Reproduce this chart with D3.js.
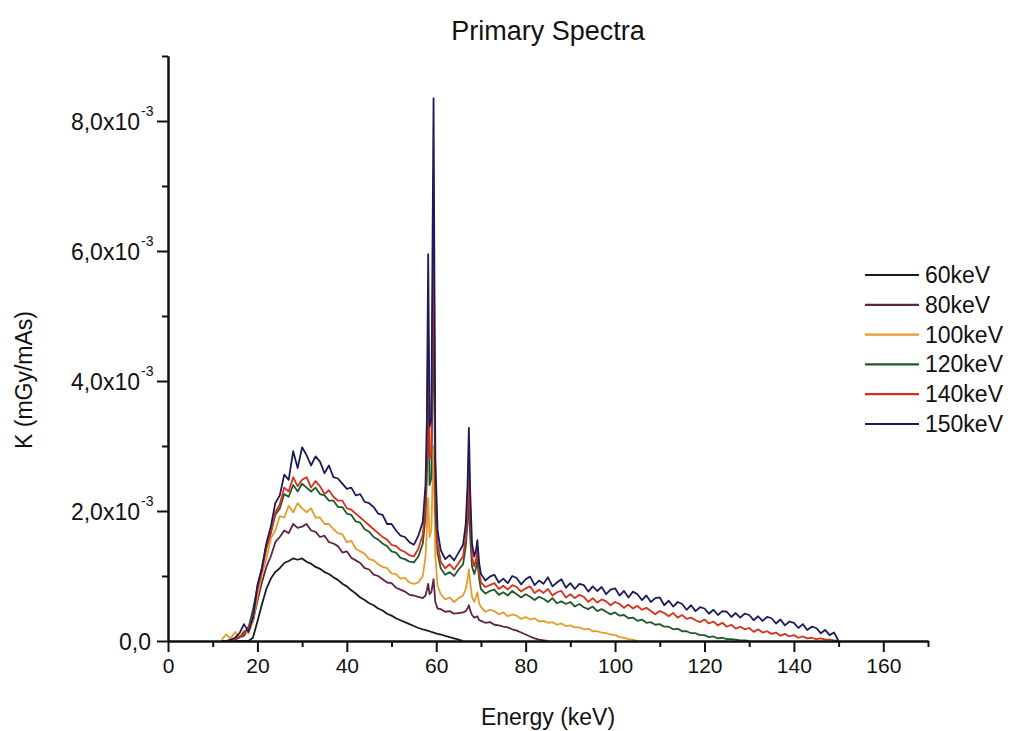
<!DOCTYPE html>
<html>
<head>
<meta charset="utf-8">
<script src="https://cdn.jsdelivr.net/npm/d3@7"></script>
<style>
  body { margin: 0; background: #fff; }
  svg text { font-family: "Liberation Sans", Arial, sans-serif; fill: #111; }
</style>
</head>
<body>
<div id="chart"></div>
<script>
// energy grid (keV), finer near the tungsten K lines
const energy = [
  12, 13, 14, 15, 16, 17, 18, 19, 20, 21, 22, 23, 24, 25, 26, 27, 28, 29, 30, 31,
  32, 33, 34, 35, 36, 37, 38, 39, 40, 41, 42, 43, 44, 45, 46, 47, 48, 49, 50, 51,
  52, 53, 54, 55, 56, 57,
  57.6, 57.9, 58.2, 58.5, 58.9, 59.4, 59.8, 60.3,
  61, 62, 63, 64, 65, 66,
  66.6, 67.0, 67.3, 67.6, 68.0, 68.5, 68.9, 69.2, 69.6,
  70, 71, 72, 73, 74, 75, 76, 77, 78, 79, 80, 81, 82, 83, 84, 85, 86, 87, 88, 89,
  90, 91, 92, 93, 94, 95, 96, 97, 98, 99, 100, 101, 102, 103, 104, 105, 106, 107, 108, 109,
  110, 111, 112, 113, 114, 115, 116, 117, 118, 119, 120, 121, 122, 123, 124, 125, 126, 127, 128, 129,
  130, 131, 132, 133, 134, 135, 136, 137, 138, 139, 140, 141, 142, 143, 144, 145, 146, 147, 148, 149,
  150
];

// K values in units of 1e-3 mGy/mAs, aligned with energy[]
const k60 = [
  0, 0, 0, 0, 0, 0, 0, 0.05, 0.3, 0.56,
  0.8, 0.96, 1.06, 1.12, 1.2, 1.23, 1.27, 1.25, 1.27, 1.22,
  1.19, 1.14, 1.11, 1.06, 1.03, 0.98, 0.94, 0.88, 0.84, 0.78,
  0.73, 0.67, 0.63, 0.58, 0.55, 0.5, 0.47, 0.42, 0.39, 0.35,
  0.32, 0.29, 0.26, 0.23, 0.2, 0.18,
  0.17, 0.16, 0.16, 0.15, 0.14, 0.13, 0.12, 0.11,
  0.1, 0.08, 0.06, 0.04, 0.02, 0
];

const k80 = [
  0, 0, 0, 0.02, 0.06, 0.08, 0.2, 0.3, 0.62, 0.9,
  1.14, 1.3, 1.52, 1.6, 1.7, 1.66, 1.8, 1.74, 1.76, 1.8,
  1.7, 1.68, 1.6, 1.62, 1.52, 1.5, 1.46, 1.36, 1.38, 1.28,
  1.24, 1.2, 1.12, 1.1, 1.02, 1.0, 0.95, 0.9, 0.89, 0.82,
  0.79, 0.76, 0.71, 0.7, 0.68, 0.66,
  0.7, 0.78, 0.88, 0.72, 0.75, 0.95, 0.6, 0.5,
  0.49, 0.45, 0.46, 0.42, 0.43, 0.44,
  0.46, 0.5, 0.55, 0.47, 0.4, 0.36, 0.37, 0.38, 0.32,
  0.31, 0.28, 0.29, 0.25, 0.24, 0.22, 0.21, 0.18, 0.16, 0.13,
  0.1, 0.07, 0.04, 0.02, 0.01, 0
];

const k100 = [
  0.02, 0.1, 0.04, 0.14, 0.05, 0.16, 0.12, 0.3, 0.68, 1.02,
  1.26, 1.58, 1.7, 1.92, 1.9, 2.08, 1.98, 2.12, 2.04, 1.98,
  2.04, 1.9, 1.9, 1.8, 1.8, 1.72, 1.66, 1.64, 1.52, 1.54,
  1.42, 1.38, 1.34, 1.26, 1.24, 1.18, 1.14, 1.12, 1.04, 1.03,
  0.96, 0.97, 0.9, 0.88, 0.9, 1.0,
  1.3, 1.7, 2.2, 1.6, 1.7, 3.0, 1.3, 0.85,
  0.72, 0.64, 0.67, 0.6, 0.66, 0.7,
  0.8, 0.95, 1.1, 0.9, 0.68, 0.6, 0.68, 0.75, 0.58,
  0.52, 0.45, 0.48, 0.46, 0.41, 0.44, 0.38, 0.41, 0.39, 0.34,
  0.37, 0.33, 0.35, 0.3, 0.31, 0.28, 0.29, 0.25, 0.27, 0.23,
  0.24, 0.21, 0.21, 0.18, 0.19, 0.15, 0.15, 0.13, 0.12, 0.1,
  0.09, 0.06, 0.05, 0.03, 0.02, 0
];

const k120 = [
  0, 0, 0, 0.02, 0.06, 0.13, 0.2, 0.48, 0.82, 1.12,
  1.48, 1.66, 1.94, 2.04, 2.26, 2.22, 2.4, 2.3, 2.42, 2.36,
  2.3, 2.36, 2.26, 2.24, 2.16, 2.16, 2.06, 2.06, 1.96, 1.94,
  1.84, 1.82, 1.72, 1.68, 1.6, 1.56, 1.5, 1.46, 1.38, 1.36,
  1.28, 1.26, 1.22, 1.21, 1.3, 1.5,
  1.9, 2.5, 3.8, 2.4, 2.5, 5.2, 2.0, 1.35,
  1.12, 1.02, 1.06, 1.0, 1.1, 1.18,
  1.45, 1.8, 2.2, 1.6, 1.15, 1.03, 1.12, 1.25, 0.95,
  0.8, 0.73, 0.77, 0.79, 0.71, 0.75, 0.7, 0.77, 0.72, 0.67,
  0.72, 0.68, 0.63, 0.68, 0.65, 0.6, 0.66, 0.58, 0.61, 0.57,
  0.6, 0.53, 0.57, 0.52, 0.49, 0.53, 0.46, 0.49, 0.45, 0.41,
  0.44, 0.39, 0.4, 0.35, 0.36, 0.31, 0.33, 0.28, 0.29, 0.25,
  0.26, 0.22, 0.22, 0.18, 0.19, 0.15, 0.15, 0.12, 0.12, 0.09,
  0.09, 0.06, 0.07, 0.04, 0.05, 0.03, 0.03, 0.02, 0.01, 0.01,
  0
];

const k140 = [
  0, 0, 0, 0.03, 0.07, 0.1, 0.22, 0.34, 0.8, 1.08,
  1.42, 1.66, 1.98, 2.1, 2.36, 2.3, 2.52, 2.38, 2.48, 2.52,
  2.36, 2.46, 2.38, 2.26, 2.32, 2.22, 2.16, 2.16, 2.04, 2.02,
  1.96, 1.9, 1.84, 1.78, 1.72, 1.66, 1.6, 1.56, 1.48, 1.46,
  1.4, 1.37, 1.32, 1.3, 1.42, 1.64,
  2.1, 2.9, 4.8, 2.8, 2.9, 6.6, 2.4, 1.5,
  1.22, 1.12, 1.18, 1.1, 1.2, 1.3,
  1.6, 2.0, 2.7, 1.9, 1.3, 1.15, 1.25, 1.4, 1.05,
  0.9, 0.83, 0.86, 0.89, 0.8, 0.85, 0.79, 0.86, 0.83, 0.76,
  0.81, 0.84, 0.74, 0.79, 0.74, 0.8, 0.7, 0.75, 0.77, 0.67,
  0.72, 0.66, 0.71, 0.68, 0.6, 0.66, 0.59, 0.64, 0.61, 0.55,
  0.6, 0.57, 0.51, 0.56, 0.5, 0.54, 0.48, 0.51, 0.46, 0.41,
  0.46, 0.43, 0.38, 0.43, 0.36, 0.4, 0.34, 0.36, 0.32, 0.29,
  0.33, 0.27, 0.3, 0.24, 0.28, 0.22, 0.25, 0.19, 0.22, 0.18,
  0.2, 0.14, 0.18, 0.13, 0.15, 0.11, 0.13, 0.08, 0.11, 0.07,
  0.09, 0.05, 0.07, 0.04, 0.05, 0.03, 0.04, 0.02, 0.02, 0.01,
  0
];

const k150 = [
  0, 0, 0.02, 0.05, 0.12, 0.26, 0.14, 0.36, 0.86, 1.12,
  1.5, 1.76, 2.12, 2.24, 2.56, 2.48, 2.92, 2.66, 2.98, 2.86,
  2.7, 2.84, 2.76, 2.58, 2.7, 2.52, 2.5, 2.42, 2.34, 2.36,
  2.24, 2.26, 2.14, 2.12, 2.06, 1.96, 1.94, 1.8, 1.8, 1.7,
  1.62, 1.6, 1.52, 1.48, 1.62, 1.84,
  2.4, 3.4, 5.95, 3.3, 3.4, 8.35, 2.8, 1.7,
  1.4, 1.26, 1.32, 1.24, 1.36, 1.48,
  1.8, 2.4, 3.28, 2.3, 1.5, 1.3, 1.4, 1.55, 1.2,
  1.03, 0.93, 0.99, 1.02, 0.9, 0.96, 0.89, 1.0, 0.97, 0.87,
  0.95, 0.99, 0.86, 0.93, 0.88, 0.98, 0.84, 0.9, 0.95, 0.82,
  0.89, 0.8, 0.88, 0.86, 0.76, 0.84, 0.77, 0.83, 0.72, 0.79,
  0.81, 0.7, 0.77, 0.67, 0.76, 0.72, 0.63, 0.7, 0.6, 0.66,
  0.67, 0.55, 0.62, 0.53, 0.6, 0.57, 0.48, 0.55, 0.46, 0.52,
  0.5, 0.42, 0.48, 0.4, 0.46, 0.45, 0.37, 0.43, 0.36, 0.42,
  0.4, 0.32, 0.38, 0.31, 0.37, 0.35, 0.27, 0.33, 0.24, 0.3,
  0.28, 0.2, 0.26, 0.17, 0.22, 0.2, 0.12, 0.17, 0.09, 0.13,
  0
];

const seriesNames = ["60keV", "80keV", "100keV", "120keV", "140keV", "150keV"];
const seriesValues = [k60, k80, k100, k120, k140, k150];
const seriesColors = ["#1c1c1c", "#5e2346", "#e89a2c", "#1f5a2c", "#d8301a", "#1c1c5c"];

const yMajorTicks = [0, 2, 4, 6, 8];
const yMinorTicks = [1, 3, 5, 7, 9];
const xMajorTicks = [0, 20, 40, 60, 80, 100, 120, 140, 160];
const xMinorTicks = [10, 30, 50, 70, 90, 110, 130, 150, 170];

const width = 1010, height = 731;

const svg = d3.select("#chart")
  .append("svg")
  .attr("width", width)
  .attr("height", height);

const x = d3.scaleLinear().domain([0, 170]).range([168, 928]);
const y = d3.scaleLinear().domain([0, 9]).range([641, 56]);

// title
svg.append("text")
  .attr("x", 548)
  .attr("y", 40)
  .attr("text-anchor", "middle")
  .style("font-size", "27px")
  .text("Primary Spectra");

// curves, lowest kV first so 150keV ends up on top
const line = d3.line()
  .x((d, i) => x(energy[i]))
  .y(d => y(d));

svg.append("g")
  .selectAll("path")
  .data(seriesValues)
  .enter()
  .append("path")
  .attr("d", d => line(d))
  .attr("fill", "none")
  .attr("stroke", (d, i) => seriesColors[i])
  .attr("stroke-width", 1.8)
  .attr("stroke-linejoin", "round");

// x axis
const xAxis = svg.append("g")
  .attr("transform", `translate(0,${y(0)})`);

xAxis.append("g")
  .call(d3.axisBottom(x).tickValues(xMinorTicks).tickSize(6).tickSizeOuter(0).tickFormat(""));
xAxis.append("g")
  .call(d3.axisBottom(x).tickValues(xMajorTicks).tickSize(11).tickSizeOuter(0).tickPadding(6))
  .selectAll("text")
  .style("font-size", "21px");

// y axis
const yAxis = svg.append("g")
  .attr("transform", `translate(${x(0)},0)`);

yAxis.append("g")
  .call(d3.axisLeft(y).tickValues(yMinorTicks).tickSize(6).tickSizeOuter(0).tickFormat(""));
const yMajor = yAxis.append("g")
  .call(d3.axisLeft(y).tickValues(yMajorTicks).tickSize(11).tickSizeOuter(0).tickFormat(""));

// tick labels like 8,0x10^-3
yMajor.selectAll(".tick").each(function(d) {
  const t = d3.select(this).append("text")
    .attr("x", d === 0 ? -17 : -28)
    .attr("dy", "0.35em")
    .attr("text-anchor", "end")
    .style("font-size", "23px")
    .attr("fill", "#111");
  if (d === 0) {
    t.text("0,0");
  } else {
    t.text(d + ",0x10");
    d3.select(this).append("text")
      .attr("x", -27)
      .attr("y", -6)
      .attr("text-anchor", "start")
      .style("font-size", "14px")
      .attr("fill", "#111")
      .text("-3");
  }
});

svg.selectAll(".domain, .tick line")
  .attr("stroke", "#111")
  .attr("stroke-width", 2);

// axis titles
svg.append("text")
  .attr("x", 548)
  .attr("y", 725)
  .attr("text-anchor", "middle")
  .style("font-size", "23px")
  .text("Energy (keV)");

svg.append("text")
  .attr("transform", "translate(32,380) rotate(-90)")
  .attr("text-anchor", "middle")
  .style("font-size", "23px")
  .text("K (mGy/mAs)");

// legend
const legend = svg.append("g")
  .selectAll("g")
  .data(seriesNames)
  .enter()
  .append("g")
  .attr("transform", (d, i) => `translate(865,${275 + i * 29.8})`);

legend.append("line")
  .attr("x1", 0)
  .attr("x2", 54)
  .attr("stroke", (d, i) => seriesColors[i])
  .attr("stroke-width", 2.2);

legend.append("text")
  .attr("x", 60)
  .attr("dy", "0.35em")
  .style("font-size", "23px")
  .text(d => d);
</script>
</body>
</html>
